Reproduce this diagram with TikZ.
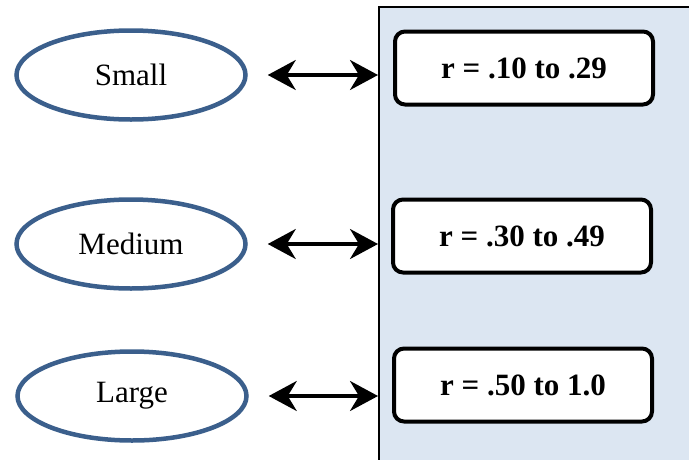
\documentclass[tikz,border=0pt]{standalone}
\usepackage{fontspec}
\setmainfont{Liberation Serif}
\usetikzlibrary{arrows.meta, shapes.geometric}
\definecolor{cedge}{HTML}{3B5F8C}
\definecolor{cpanel}{HTML}{DCE6F2}
\tikzset{
  every picture/.style={x=1pt, y=1pt, font=\fontsize{31}{36}\selectfont},
  sizebox/.style={ellipse, draw=cedge, fill=white, line width=4.5pt, minimum width=229pt, minimum height=89pt, inner sep=0pt},
  rangebox/.style={draw=black, fill=white, rounded corners=10pt, line width=4pt, minimum width=258pt, minimum height=73pt, font=\fontsize{31}{36}\selectfont\bfseries},
  twoway/.style={{Stealth[length=28pt, width=30pt, inset=9pt]}-{Stealth[length=28pt, width=30pt, inset=9pt]}, draw=black, line width=3.5pt},
}

\begin{document}
\begin{tikzpicture}[
  panel/.style={draw=black, fill=cpanel, line width=2pt, anchor=north west, minimum width=330pt, minimum height=480pt, inner sep=0pt}]
  \useasboundingbox (0,0) rectangle (689,-459);
  \node[panel] (panel) at (378,-6) {};
  \node[sizebox] (s) at (131,-75) {Small};
  \node[sizebox] (m) at (131,-244) {Medium};
  \node[sizebox] (l) at (132,-396) {Large};
  \node[rangebox] (rs) at (524,-68) {r = .10 to .29};
  \node[rangebox] (rm) at (522,-236) {r = .30 to .49};
  \node[rangebox] (rl) at (523,-385) {r = .50 to 1.0};
  \draw[twoway] ([xshift=20pt]s.east) -- (s.east -| panel.west);
  \draw[twoway] ([xshift=20pt]m.east) -- (m.east -| panel.west);
  \draw[twoway] ([xshift=20pt]l.east) -- (l.east -| panel.west);
\end{tikzpicture}
\end{document}
